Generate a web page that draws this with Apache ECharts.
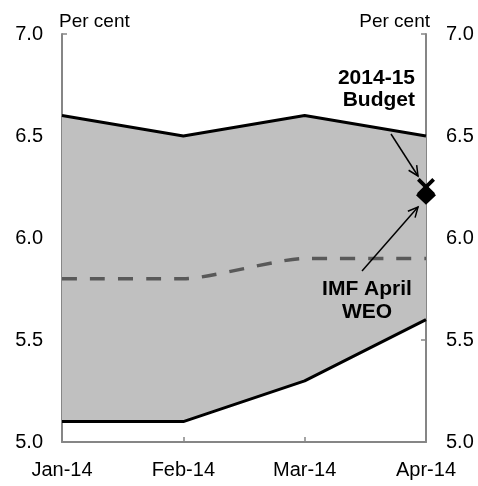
<!DOCTYPE html>
<html>
<head>
<meta charset="utf-8">
<script src="https://cdn.jsdelivr.net/npm/echarts@6/dist/echarts.min.js"></script>
<style>
    html, body { margin: 0; padding: 0; background: #fff; }
    #chart { width: 478px; height: 486px; }
</style>
</head>
<body>
<div id="chart"></div>
<script>
    var months = ['Jan-14', 'Feb-14', 'Mar-14', 'Apr-14'];
    var upper = [6.6, 6.5, 6.6, 6.5];
    var lower = [5.1, 5.1, 5.3, 5.6];
    var mid = [5.8, 5.8, 5.9, 5.9];
    var budget = 6.25;   // 2014-15 Budget (cross)
    var imf = 6.21;      // IMF April WEO (diamond)

    var band = [];
    for (var i = 0; i < upper.length; i++) {
        band.push(+(upper[i] - lower[i]).toFixed(2));
    }

    var font = 'Liberation Sans, Arial, sans-serif';
    var axisGrey = '#868686';

    // arrow drawn as a line with an open head
    function arrow(x1, y1, x2, y2) {
        var a = Math.atan2(y2 - y1, x2 - x1), len = 11, w = 0.45;
        var p1 = [x2 - len * Math.cos(a - w), y2 - len * Math.sin(a - w)];
        var p2 = [x2 - len * Math.cos(a + w), y2 - len * Math.sin(a + w)];
        var st = {stroke: '#000', lineWidth: 1.5, fill: null};
        return [
            {type: 'line', shape: {x1: x1, y1: y1, x2: x2, y2: y2}, style: st, z: 10},
            {type: 'polyline', shape: {points: [p1, [x2, y2], p2]}, style: st, z: 10}
        ];
    }

    function yAxisOpt(pos) {
        return {
            type: 'value',
            position: pos,
            min: 5, max: 7, interval: 0.5,
            name: 'Per cent',
            nameLocation: 'end',
            nameGap: 3,
            nameTextStyle: {
                fontFamily: font, fontSize: 19, color: '#000',
                align: pos === 'left' ? 'left' : 'right',
                padding: pos === 'left' ? [0, 0, 0, -3] : [0, -4, 0, 0]
            },
            axisLine: {show: true, lineStyle: {color: axisGrey, width: 2}},
            axisTick: {show: true, inside: true, length: 5, lineStyle: {color: axisGrey, width: 1.5}},
            axisLabel: {
                margin: pos === 'left' ? 19 : 20,
                fontFamily: font, fontSize: 20, color: '#000',
                formatter: function (v) { return v.toFixed(1); }
            },
            splitLine: {show: false}
        };
    }

    var chart = echarts.init(document.getElementById('chart'));
    var graphics = [].concat(
        arrow(391, 134, 418, 176),
        arrow(362, 271, 418, 207),
        [
            {type: 'text', x: 415, y: 67, z: 10,
                style: {text: '2014-15\nBudget', fontFamily: font, fontSize: 21, fontWeight: 'bold',
                    fill: '#000', align: 'right', lineHeight: 22}},
            {type: 'text', x: 367, y: 278, z: 10,
                style: {text: 'IMF April\nWEO', fontFamily: font, fontSize: 21, fontWeight: 'bold',
                    fill: '#000', align: 'center', lineHeight: 23}}
        ]
    );

    chart.setOption({
        animation: false,
        backgroundColor: '#fff',
        grid: {left: 62, right: 52, top: 34, bottom: 44},
        xAxis: {
            type: 'category',
            data: months,
            boundaryGap: false,
            axisLine: {lineStyle: {color: axisGrey, width: 2}},
            axisTick: {inside: true, length: 5, lineStyle: {color: axisGrey, width: 1.5}},
            axisLabel: {margin: 18, fontFamily: font, fontSize: 20, color: '#000'}
        },
        yAxis: [yAxisOpt('left'), yAxisOpt('right')],
        series: [
            {
                name: 'Lower', type: 'line', stack: 'range', data: lower,
                symbol: 'none', z: 4,
                lineStyle: {color: '#000', width: 3}
            },
            {
                name: 'Range', type: 'line', stack: 'range', data: band,
                symbol: 'none', z: 3,
                lineStyle: {color: '#000', width: 3},
                areaStyle: {color: '#C0C0C0', opacity: 1}
            },
            {
                name: 'Mid', type: 'line', data: mid,
                symbol: 'none', z: 4,
                smooth: 0.2, smoothMonotone: 'x',
                lineStyle: {color: '#595959', width: 3.5, type: [15, 13]}
            },
            {
                name: '2014-15 Budget', type: 'scatter', z: 5,
                data: [[3, budget]],
                symbol: 'path://M0,3 L3,0 L10,7 L17,0 L20,3 L13,10 L20,17 L17,20 L10,13 L3,20 L0,17 L7,10 Z',
                symbolSize: 18,
                itemStyle: {color: '#000', opacity: 1}
            },
            {
                name: 'IMF April WEO', type: 'scatter', z: 6,
                data: [[3, imf]],
                symbol: 'diamond',
                symbolSize: [20, 19],
                itemStyle: {color: '#000', opacity: 1}
            }
        ],
        graphic: graphics
    });
</script>
</body>
</html>
